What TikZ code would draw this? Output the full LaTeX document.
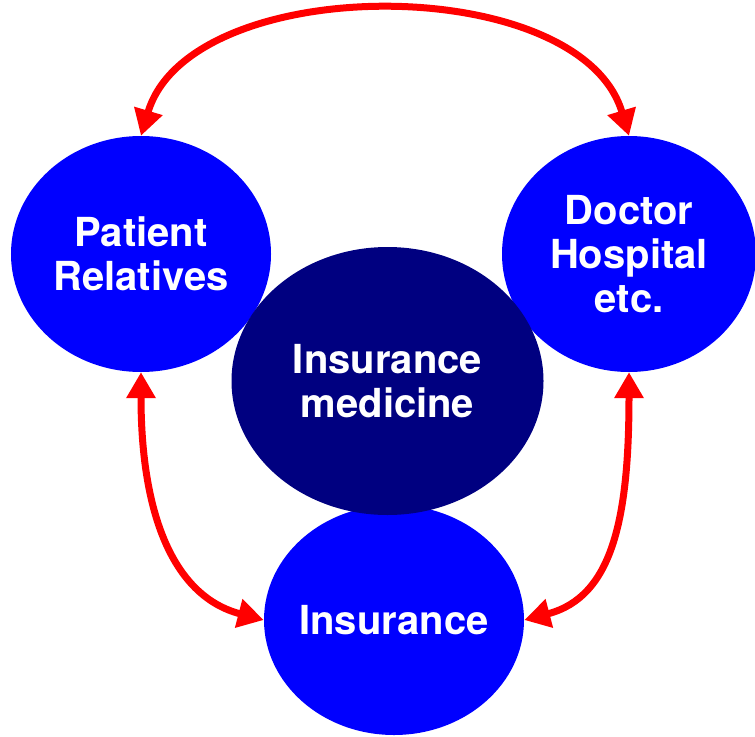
\documentclass[tikz,border=0pt]{standalone}
\usepackage{fontspec}
\setmainfont{TeX Gyre Heros}
\usetikzlibrary{shapes.geometric,arrows.meta}
\definecolor{bubble}{RGB}{0,0,255}
\definecolor{core}{RGB}{0,0,128}
\definecolor{link}{RGB}{255,0,0}
\tikzset{
  bubble/.style={ellipse, fill=bubble, inner ysep=0pt, inner xsep=-25bp,
    text=white, align=center, font=\fontsize{40bp}{44bp}\selectfont\bfseries},
  corebubble/.style={bubble, fill=core},
  relation/.style={draw=link, line width=7bp,
    {Triangle[length=26bp,width=28bp]}-{Triangle[length=26bp,width=28bp]}}
}
\begin{document}
\begin{tikzpicture}[x=1bp,y=1bp]
  \useasboundingbox (0,0) rectangle (755,-737);
  % outer parties
  \node[bubble, minimum width=260bp, minimum height=236bp] (pr) at (141,-254) {Patient\\Relatives};
  \node[bubble, minimum width=254bp, minimum height=236bp] (dh) at (629,-254) {Doctor\\Hospital\\etc.};
  \node[bubble, minimum width=260bp, minimum height=230bp] (ins) at (394,-620) {Insurance};
  % central topic on top
  \node[corebubble, minimum width=312bp, minimum height=268bp] (im) at (387.5,-381) {Insurance\\medicine};
  % relations between the parties
  \draw[relation] (pr.north) .. controls +(49,165) and +(-49,165) .. (dh.north);
  \draw[relation] (pr.south) .. controls +(0,-147) and +(-88,23) .. (ins.west);
  \draw[relation] (dh.south) .. controls +(0,-147) and +(88,23) .. (ins.east);
\end{tikzpicture}
\end{document}
